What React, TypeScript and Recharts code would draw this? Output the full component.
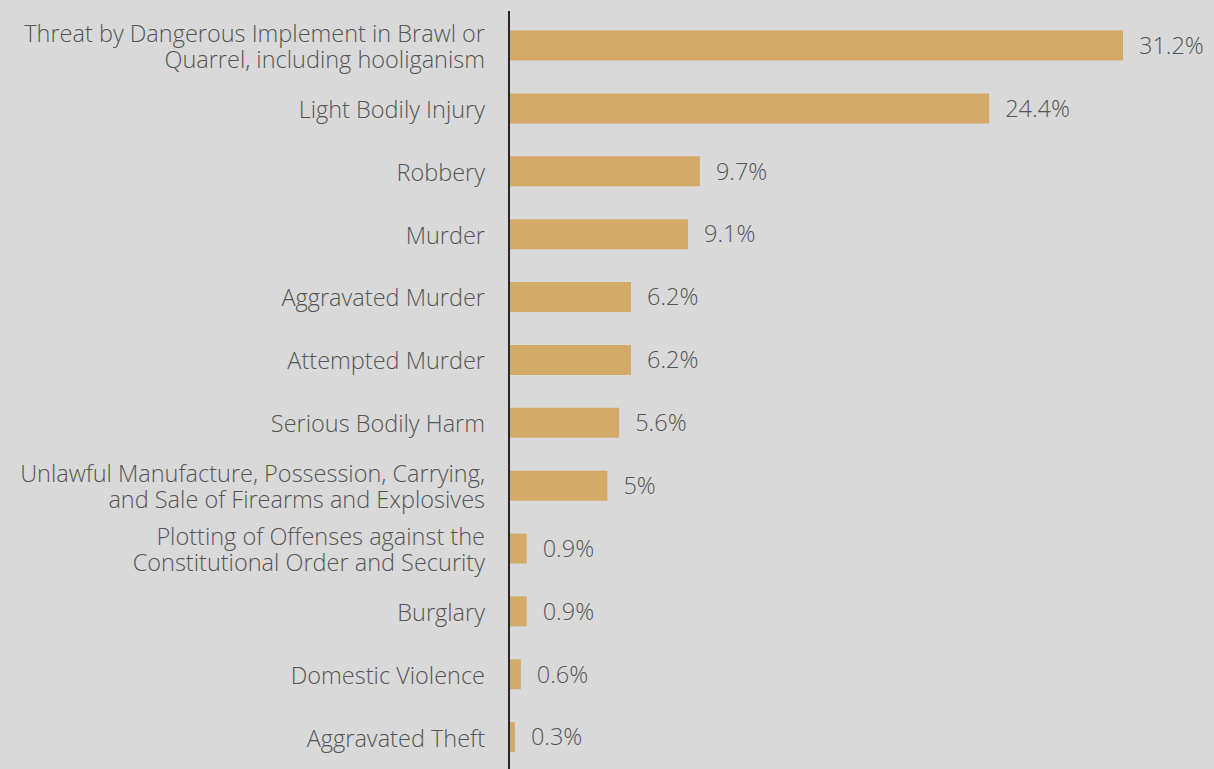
import { BarChart, Bar, XAxis, YAxis, LabelList } from "recharts";

const categories = [
  "Threat by Dangerous Implement in Brawl or\nQuarrel, including hooliganism",
  "Light Bodily Injury",
  "Robbery",
  "Murder",
  "Aggravated Murder",
  "Attempted Murder",
  "Serious Bodily Harm",
  "Unlawful Manufacture, Possession, Carrying,\nand Sale of Firearms and Explosives",
  "Plotting of Offenses against the\nConstitutional Order and Security",
  "Burglary",
  "Domestic Violence",
  "Aggravated Theft",
];

const shares = [31.2, 24.4, 9.7, 9.1, 6.2, 6.2, 5.6, 5, 0.9, 0.9, 0.6, 0.3];

const data = categories.map((name, i) => ({ name, value: shares[i] }));

const FONT = "'Open Sans', sans-serif";
const TEXT = "#555555";
const SIZE = 23.5;

function CategoryTick(props: any) {
  const { x, y, payload } = props;
  const lines: string[] = String(payload.value).split("\n");
  const lh = 25.5;
  const start = -((lines.length - 1) * lh) / 2;
  return (
    <text
      x={x}
      y={y}
      textAnchor="end"
      fill={TEXT}
      fontFamily={FONT}
      fontWeight={300}
      fontSize={SIZE}
    >
      {lines.map((l, i) => (
        <tspan key={i} x={x} dy={i === 0 ? start : lh} dominantBaseline="central">
          {l}
        </tspan>
      ))}
    </text>
  );
}

export default function App() {
  return (
    <div
      style={{
        position: "absolute",
        left: 0,
        top: 0,
        width: 1214,
        height: 769,
        background: "#d9d9d9",
        overflow: "hidden",
      }}
    >
      <BarChart
        width={1214}
        height={769}
        data={data}
        layout="vertical"
        margin={{ top: 11, right: 91, bottom: 0, left: 0 }}
        barSize={30}
      >
        <XAxis type="number" domain={[0, 31.2]} hide />
        <YAxis
          type="category"
          dataKey="name"
          width={509}
          padding={{ top: 3.5, bottom: 0 }}
          axisLine={{ stroke: "#262626", strokeWidth: 2 }}
          tickLine={false}
          tick={<CategoryTick />}
          tickMargin={18}
          interval={0}
        />
        <Bar dataKey="value" fill="#d4aa69" isAnimationActive={false}>
          <LabelList
            dataKey="value"
            position="right"
            offset={16}
            formatter={(v: any) => `${v}%`}
            fill={TEXT}
            fontFamily={FONT}
            fontWeight={300}
            fontSize={SIZE}
          />
        </Bar>
      </BarChart>
    </div>
  );
}
